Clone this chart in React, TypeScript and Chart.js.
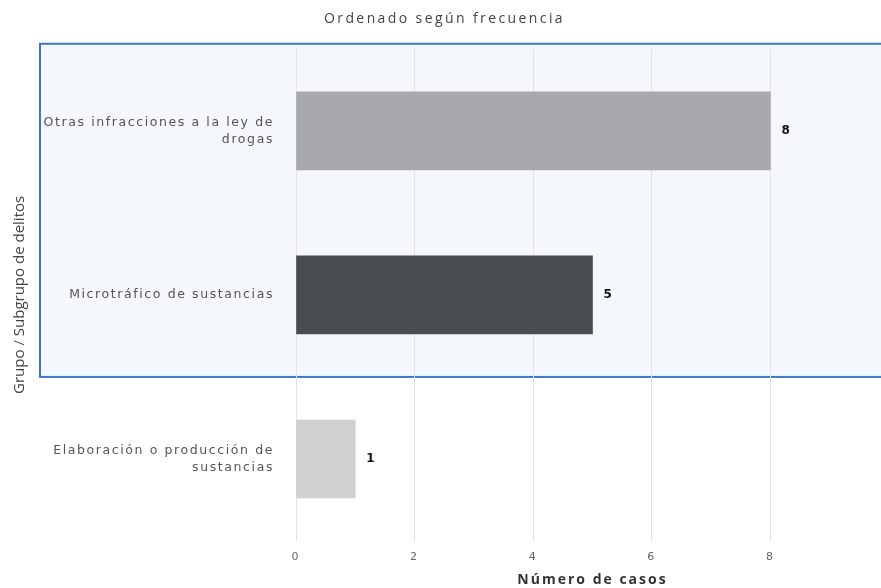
import React, { useEffect, useRef } from "react";
import { Chart, registerables } from "chart.js";

Chart.register(...registerables);

const categories: (string | string[])[] = [
  ["Otras infracciones a la ley de", "drogas"],
  "Microtráfico de sustancias",
  ["Elaboración o producción de", "sustancias"],
];
const values = [8, 5, 1];
const barColors = ["#a7a9ac", "#4a4d50", "#d0d0d0"];
const chartTitle = "Ordenado según frecuencia";
const xTitle = "Número de casos";
const yTitle = "Grupo / Subgrupo de delitos";
const highlightCount = 2;

const highlightPlugin = {
  id: "highlightBox",
  beforeDraw(chart: any) {
    const { ctx, scales } = chart;
    const y = scales.y;
    const step = y.getPixelForValue(1) - y.getPixelForValue(0);
    const top = y.getPixelForValue(0) - step / 2 - 5;
    const bottom = y.getPixelForValue(highlightCount - 1) + step / 2;
    const left = 40;
    ctx.save();
    ctx.fillStyle = "#f4f7fb";
    ctx.fillRect(left, top, chart.width - left + 10, bottom - top);
    ctx.strokeStyle = "#3b78c9";
    ctx.lineWidth = 2;
    ctx.strokeRect(left, top, chart.width - left + 10, bottom - top);
    ctx.restore();
  },
};

function wrapSpacing(obj: any, method: string, spacing: string, ctx: any) {
  if (!obj || obj["__wrapped_" + method]) return;
  const orig = obj[method];
  obj[method] = function (...args: any[]) {
    ctx.save();
    ctx.letterSpacing = spacing;
    const r = orig.apply(this, args);
    ctx.restore();
    return r;
  };
  obj["__wrapped_" + method] = true;
}

const spacingPlugin = {
  id: "spacing",
  beforeDraw(chart: any) {
    const ctx = chart.ctx;
    wrapSpacing(chart.scales.y, "drawLabels", "1.6px", ctx);
    wrapSpacing(chart.scales.x, "drawLabels", "2px", ctx);
    wrapSpacing(chart.scales.x, "drawTitle", "2px", ctx);
    wrapSpacing(chart.titleBlock, "draw", "2.4px", ctx);
  },
};

const valueLabelPlugin = {
  id: "valueLabels",
  afterDatasetsDraw(chart: any) {
    const { ctx } = chart;
    const meta = chart.getDatasetMeta(0);
    ctx.save();
    ctx.font = "bold 12px DejaVu Sans";
    ctx.fillStyle = "#111";
    ctx.textAlign = "left";
    ctx.textBaseline = "middle";
    meta.data.forEach((el: any, i: number) => {
      ctx.fillText(String(values[i]), el.x + 11, el.y);
    });
    ctx.restore();
  },
};

export default function App() {
  const ref = useRef<HTMLCanvasElement>(null);
  useEffect(() => {
    if (!ref.current) return;
    const chart = new Chart(ref.current, {
      type: "bar",
      data: {
        labels: categories,
        datasets: [
          {
            data: values,
            backgroundColor: barColors,
            barThickness: 78,
          },
        ],
      },
      options: {
        indexAxis: "y",
        animation: false,
        responsive: false,
        layout: { padding: { left: 0, right: 6, top: 0, bottom: 0 } },
        plugins: {
          legend: { display: false },
          tooltip: { enabled: false },
          title: {
            display: true,
            text: chartTitle,
            color: "#444",
            font: { family: "Open Sans", size: 14, weight: "normal" },
            padding: { top: 11, bottom: 21 },
          },
        },
        scales: {
          x: {
            min: 0,
            max: 10,
            ticks: {
              stepSize: 2,
              autoSkip: false,
              color: "#666",
              font: { family: "DejaVu Sans", size: 11 },
              padding: 10,
            },
            grid: { color: "#e3e3e3", drawTicks: false },
            border: { display: false },
            title: {
              display: true,
              text: xTitle,
              color: "#333",
              font: { family: "Open Sans", size: 14, weight: "bold" },
              padding: { top: 2, bottom: 0 },
            },
            afterFit(scale: any) {
              scale.height = 47;
              scale.paddingRight = 0;
            },
          },
          y: {
            ticks: {
              color: "#555",
              font: { family: "DejaVu Sans", size: 12.5, lineHeight: 1.35 },
              padding: 22,
            },
            grid: { display: false, drawTicks: false },
            border: { display: false },
            title: {
              display: true,
              text: yTitle,
              color: "#444",
              font: { family: "Open Sans", size: 15 },
              padding: { top: 11, bottom: 0 },
            },
            afterFit(scale: any) {
              scale.width = 296;
            },
          },
        },
      },
      plugins: [highlightPlugin, spacingPlugin, valueLabelPlugin],
    });
    return () => chart.destroy();
  }, []);
  return (
    <div
      style={{
        position: "fixed",
        left: 0,
        top: 0,
        width: 881,
        height: 588,
        overflow: "hidden",
        background: "#fff",
      }}
    >
      <canvas ref={ref} width={895} height={588} style={{ display: "block" }} />
    </div>
  );
}
